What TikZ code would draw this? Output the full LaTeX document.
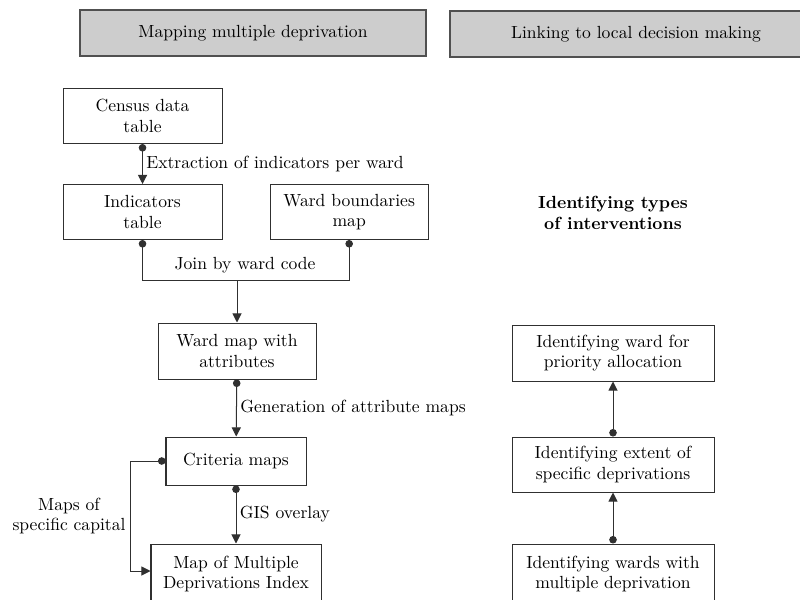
\documentclass[tikz,border=0pt]{standalone}
\usepackage{tikz}
\usetikzlibrary{positioning,arrows.meta}
\definecolor{cline}{HTML}{303030}
\definecolor{chead}{HTML}{CDCDCD}
\definecolor{cedge}{HTML}{505050}
\tikzset{
 every node/.style={font=\fontsize{10.5}{12.2}\selectfont},
 hdr/.style={rectangle, draw=cedge, fill=chead, line width=1pt, align=center,
 minimum height=9.66mm, inner sep=2pt},
 box/.style={rectangle, draw=cline, line width=0.6pt, fill=white, align=center,
 inner sep=2pt},
 lbl/.style={align=center, inner sep=2pt},
 fl/.style={{Circle[length=4.5pt]}-{Triangle[length=5.5pt,width=5.5pt]}, draw=cline, line width=0.6pt},
 fls/.style={{Circle[length=4.5pt]}-, draw=cline, line width=0.6pt},
 fle/.style={-{Triangle[length=5.5pt,width=5.5pt]}, draw=cline, line width=0.6pt},
}
\begin{document}
\begin{tikzpicture}
 \clip (0,0) rectangle (16.8,-12.579);
 % headers
 \node[hdr, minimum width=72.66mm] (HL) at (5.313,-0.693) {Mapping multiple deprivation};
 \node[hdr, minimum width=78.12mm] (HR) at (13.356,-0.714) {Linking to local decision making};
 % mapping column
 \node[box, minimum width=33.39mm, minimum height=11.55mm] (CD) at (2.993,-2.436) {Census data\\table};
 \node[box, minimum width=33.39mm, minimum height=11.55mm, below=8.4mm of CD] (IT) {Indicators\\table};
 \node[box, minimum width=33.18mm, minimum height=11.55mm, right=9.9mm of IT] (WB) {Ward boundaries\\map};
 \coordinate (JN) at (4.977,-5.88);
 \node[lbl] (JL) at (5.145,-5.56) {Join by ward code};
 \node[box, minimum width=33.18mm, minimum height=11.76mm] (WM) at (4.977,-7.371) {Ward map with\\attributes};
 \node[box, minimum width=29.4mm, minimum height=10.08mm] (CM) at (4.956,-9.681) {Criteria maps};
 \node[box, minimum width=35.7mm, minimum height=12.6mm] (MI) at (4.956,-12.054) {Map of Multiple\\Deprivations Index};
 \node[lbl] (SC) at (1.449,-10.836) {Maps of\\specific capital};
 % decision column
 \node[lbl, font=\fontsize{10.5}{12.2}\selectfont\bfseries] (TY) at (12.873,-4.473) {Identifying types\\of interventions};
 \node[box, minimum width=42.42mm, minimum height=11.76mm] (WP) at (12.873,-7.413) {Identifying ward for\\priority allocation};
 \node[box, minimum width=42.42mm, minimum height=11.55mm] (ED) at (12.873,-9.755) {Identifying extent of\\specific deprivations};
 \node[box, minimum width=42.42mm, minimum height=12.6mm] (WD) at (12.873,-12.054) {Identifying wards with\\multiple deprivation};

 \draw[fl] (CD) -- node[midway,right,lbl]{Extraction of indicators per ward} (IT);
 \draw[fls] (IT.south) |- (JN); \draw[fls] (WB.south) |- (JN);
 \draw[fle] (JN) -- (WM);
 \draw[fl] (WM) -- node[midway,right,lbl]{Generation of attribute maps} (CM);
 \draw[fl] (CM) -- node[midway,right,lbl]{GIS overlay} (MI);
 \draw[fl] (CM.west) -- ++(-0.735,0) |- (MI.west |- 0,-11.991);
 \draw[fl] (WD) -- (ED);
 \draw[fl] (ED) -- (WP);
\end{tikzpicture}
\end{document}
